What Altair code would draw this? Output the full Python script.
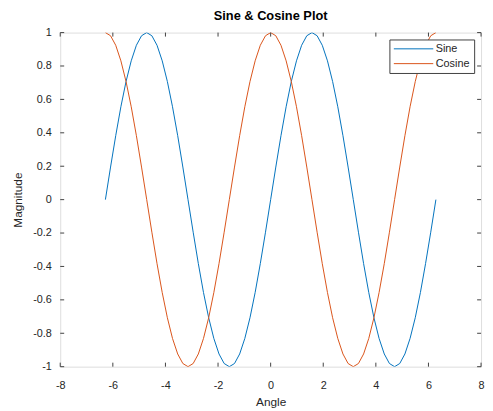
import altair as alt
import pandas as pd

# Sample angles (k * pi/16, k = -32..32) and curve values
angle = [-6.283, -6.087, -5.890, -5.694, -5.498, -5.301, -5.105, -4.909, -4.712,
         -4.516, -4.320, -4.123, -3.927, -3.731, -3.534, -3.338, -3.142,
         -2.945, -2.749, -2.553, -2.356, -2.160, -1.963, -1.767, -1.571,
         -1.374, -1.178, -0.982, -0.785, -0.589, -0.393, -0.196, 0.0,
         0.196, 0.393, 0.589, 0.785, 0.982, 1.178, 1.374, 1.571,
         1.767, 1.963, 2.160, 2.356, 2.553, 2.749, 2.945, 3.142,
         3.338, 3.534, 3.731, 3.927, 4.123, 4.320, 4.516, 4.712,
         4.909, 5.105, 5.301, 5.498, 5.694, 5.890, 6.087, 6.283]

sine = [0.0, 0.195, 0.383, 0.556, 0.707, 0.831, 0.924, 0.981, 1.0,
        0.981, 0.924, 0.831, 0.707, 0.556, 0.383, 0.195, 0.0,
        -0.195, -0.383, -0.556, -0.707, -0.831, -0.924, -0.981, -1.0,
        -0.981, -0.924, -0.831, -0.707, -0.556, -0.383, -0.195, 0.0,
        0.195, 0.383, 0.556, 0.707, 0.831, 0.924, 0.981, 1.0,
        0.981, 0.924, 0.831, 0.707, 0.556, 0.383, 0.195, 0.0,
        -0.195, -0.383, -0.556, -0.707, -0.831, -0.924, -0.981, -1.0,
        -0.981, -0.924, -0.831, -0.707, -0.556, -0.383, -0.195, 0.0]

cosine = [1.0, 0.981, 0.924, 0.831, 0.707, 0.556, 0.383, 0.195, 0.0,
          -0.195, -0.383, -0.556, -0.707, -0.831, -0.924, -0.981, -1.0,
          -0.981, -0.924, -0.831, -0.707, -0.556, -0.383, -0.195, 0.0,
          0.195, 0.383, 0.556, 0.707, 0.831, 0.924, 0.981, 1.0,
          0.981, 0.924, 0.831, 0.707, 0.556, 0.383, 0.195, 0.0,
          -0.195, -0.383, -0.556, -0.707, -0.831, -0.924, -0.981, -1.0,
          -0.981, -0.924, -0.831, -0.707, -0.556, -0.383, -0.195, 0.0,
          0.195, 0.383, 0.556, 0.707, 0.831, 0.924, 0.981, 1.0]

series_names = ["Sine", "Cosine"]
series_colors = ["#0072BD", "#D95319"]

x_ticks = [-8, -6, -4, -2, 0, 2, 4, 6, 8]
y_ticks = [-1, -0.8, -0.6, -0.4, -0.2, 0, 0.2, 0.4, 0.6, 0.8, 1]

df = pd.concat([
    pd.DataFrame({"Angle": angle, "Magnitude": sine, "Series": "Sine"}),
    pd.DataFrame({"Angle": angle, "Magnitude": cosine, "Series": "Cosine"}),
])

AX = "#404040"
TXT = "#262626"
FONT = "Liberation Sans"

xscale = alt.Scale(domain=[-8, 8], nice=False, zero=False)
yscale = alt.Scale(domain=[-1, 1], nice=False, zero=False)

x_axis = alt.Axis(values=x_ticks, tickCount=20, ticks=False, grid=False, domain=False,
                  labelPadding=13, labelFontSize=11, titleFontSize=12,
                  titlePadding=6, labelColor=TXT, titleColor=TXT,
                  labelFont=FONT, titleFont=FONT, titleFontWeight="normal",
                  labelExpr="datum.value", labelFlush=False, labelOverlap=False)
y_axis = alt.Axis(values=y_ticks, tickCount=20, ticks=False, grid=False, domain=False,
                  labelPadding=9, labelFontSize=11, titleFontSize=12,
                  titlePadding=8, labelColor=TXT, titleColor=TXT,
                  labelFont=FONT, titleFont=FONT, titleFontWeight="normal",
                  labelExpr="datum.value", labelFlush=False, labelOverlap=False)

lines = alt.Chart(df).mark_line(strokeWidth=1, clip=True).encode(
    x=alt.X("Angle:Q", scale=xscale, title="Angle", axis=x_axis),
    y=alt.Y("Magnitude:Q", scale=yscale, title="Magnitude", axis=y_axis),
    color=alt.Color("Series:N", scale=alt.Scale(domain=series_names, range=series_colors),
                    sort=series_names,
                    legend=alt.Legend(title=None, orient="top-right", offset=7,
                                      symbolType="M-4,0H4", symbolSize=100,
                                      symbolStrokeWidth=1, symbolOffset=15,
                                      labelFontSize=11,
                                      labelFont=FONT, labelColor=TXT,
                                      strokeColor=AX, fillColor="white",
                                      padding=4, rowPadding=3, labelOffset=17)),
)

# inward tick marks on all four sides (data units)
xt = pd.DataFrame({"x": x_ticks})
yt = pd.DataFrame({"y": y_ticks})
tick_style = dict(color=AX, strokeWidth=1)
bx = alt.X("x:Q", scale=xscale, title="Angle", axis=x_axis)
by = alt.Y("y:Q", scale=yscale, title="Magnitude", axis=y_axis)
bottom = alt.Chart(xt).mark_rule(**tick_style).encode(
    x=bx, y=alt.datum(-1), y2=alt.datum(-0.976))
top = alt.Chart(xt).mark_rule(**tick_style).encode(
    x=bx, y=alt.datum(1), y2=alt.datum(0.976))
left = alt.Chart(yt).mark_rule(**tick_style).encode(
    y=by, x=alt.datum(-8), x2=alt.datum(-7.85))
right = alt.Chart(yt).mark_rule(**tick_style).encode(
    y=by, x=alt.datum(8), x2=alt.datum(7.85))

chart = alt.layer(lines, bottom, top, left, right).properties(
    width=427, height=339,
    title=alt.Title("Sine & Cosine Plot", fontSize=13, fontWeight="bold",
                    font=FONT, color="#000000", offset=4),
    autosize=alt.AutoSizeParams(type="none"),
    padding={"left": 53, "top": 22, "right": 4, "bottom": 40},
).configure_view(stroke=AX, strokeWidth=1).configure(background="white")

chart.save("out.html", embed_options={"renderer": "svg", "actions": False})
